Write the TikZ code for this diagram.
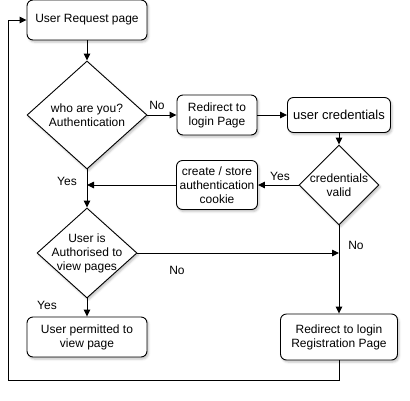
\documentclass[tikz,border=0pt]{standalone}
\usepackage{fontspec}
\setmainfont{Liberation Sans}
\usetikzlibrary{positioning, arrows.meta, shapes.geometric, shadows.blur}

\begin{document}
\begin{tikzpicture}[x=1pt, y=-1pt,
    box/.style={draw, rounded corners=6pt, fill=white, line width=0.9pt, align=center, inner sep=2pt,
        font=\fontsize{12}{14}\selectfont,
        blur shadow={shadow xshift=1.5pt, shadow yshift=-2pt, shadow blur steps=4, shadow opacity=25}},
    decision/.style={draw, diamond, fill=white, line width=0.9pt, inner sep=0pt,
        blur shadow={shadow xshift=1.5pt, shadow yshift=-2pt, shadow blur steps=4, shadow opacity=25}},
    flow/.style={-{Triangle[length=7pt, width=6.5pt]}, line width=0.9pt},
    lbl/.style={font=\fontsize{12}{14}\selectfont},
]
\useasboundingbox (0,0) rectangle (410,400);

% boxes
\node[box, minimum width=120pt, minimum height=40pt] (urq) at (87,20) {User Request page};
\node[box, minimum width=80pt, minimum height=40pt] (redir) at (217,115) {Redirect to\\login Page};
\node[box, minimum width=103pt, minimum height=35pt, font=\fontsize{13}{15}\selectfont] (cred) at (339,115) {user credentials};
\node[box, minimum width=81pt, minimum height=49pt] (cookie) at (217,185) {create / store\\authentication\\cookie};
\node[box, minimum width=120pt, minimum height=40pt] (perm) at (87,337) {User permitted to\\view page};
\node[box, minimum width=117pt, minimum height=46pt] (reg) at (339,337) {Redirect to login\\Registration Page};

% decisions
\node[decision, minimum width=120pt, minimum height=108pt,
    label={[lbl, align=center]center:who are you?\\Authentication}] (auth) at (87,115) {};
\node[decision, minimum width=80pt, minimum height=80pt,
    label={[lbl, align=center]center:credentials\\valid}] (valid) at (339,185) {};
\node[decision, minimum width=100pt, minimum height=90pt,
    label={[lbl, align=center]center:User is\\Authorised to\\view pages}] (authz) at (87,253) {};

\coordinate (join) at (87,185);
\coordinate (merge) at (339,253);
\coordinate (back) at (8,380);

% connectors
\draw[flow] (urq) -- (auth);
\draw[flow] (auth) -- (redir);
\draw[flow] (redir) -- (cred);
\draw[flow] (cred) -- (valid);
\draw[flow] (valid) -- (cookie);
\draw[flow] (cookie) -- (join);
\draw[flow] (auth) -- (authz);
\draw[flow] (authz) -- (merge);
\draw[flow] (valid) -- (reg);
\draw[flow] (authz) -- (perm);
\draw[flow] (reg.south) |- (back) |- (urq.west);

% labels
\node[lbl] (no1) at (157,105) {No};
\node[lbl] (yes1) at (280,176) {Yes};
\node[lbl] (yes2) at (67,181) {Yes};
\node[lbl] (no2) at (177,270) {No};
\node[lbl] (no3) at (356,245) {No};
\node[lbl] (yes3) at (47,305) {Yes};

\end{tikzpicture}
\end{document}
